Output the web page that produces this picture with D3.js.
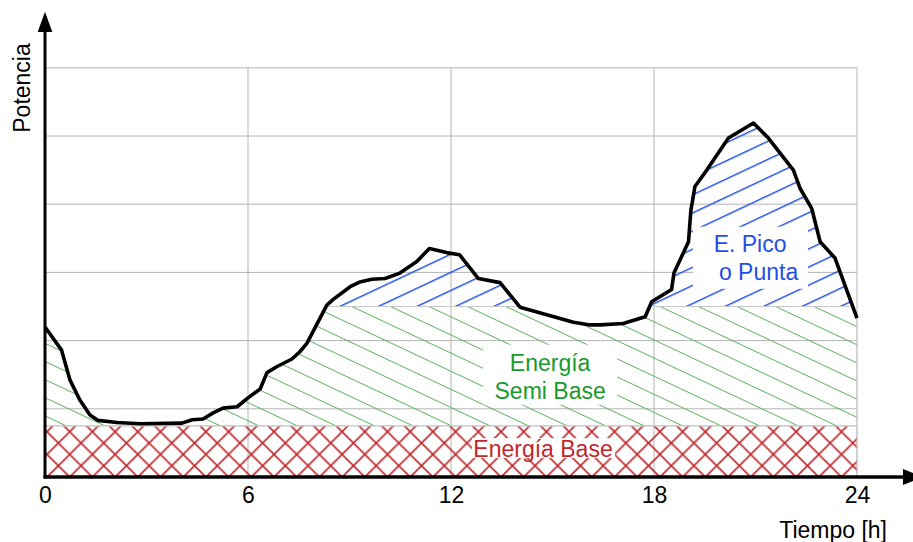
<!DOCTYPE html>
<html>
<head>
<meta charset="utf-8">
<script src="https://cdn.jsdelivr.net/npm/d3@7"></script>
<style>
  html, body { margin: 0; padding: 0; background: #fff; }
  svg { display: block; }
  text { font-family: "Liberation Sans", Arial, sans-serif; }
</style>
</head>
<body>
<svg id="chart" width="913" height="542"></svg>
<script>
// ---- data ----
const hours = [0,0.49,0.74,1.03,1.33,1.57,2.13,2.81,4.05,4.35,4.67,4.97,5.26,5.68,6.0,6.36,6.56,6.86,7.30,7.54,7.74,8.33,8.51,9.02,9.31,9.66,10.05,10.49,10.99,11.36,11.87,12.25,12.81,13.45,14.04,14.83,15.62,16.11,16.41,17.09,17.74,17.93,18.52,18.59,19.02,19.09,19.21,19.56,20.20,20.94,21.38,22.12,22.32,22.66,22.91,23.35,24];
const power = [2.20,1.86,1.42,1.13,0.91,0.83,0.80,0.78,0.79,0.84,0.85,0.94,1.01,1.03,1.16,1.29,1.53,1.62,1.73,1.84,1.96,2.52,2.60,2.79,2.86,2.90,2.91,2.99,3.16,3.35,3.29,3.26,2.91,2.85,2.49,2.38,2.27,2.23,2.23,2.25,2.35,2.57,2.75,2.99,3.45,3.91,4.26,4.50,4.97,5.19,4.97,4.50,4.23,3.94,3.45,3.21,2.33];
const xTicks = [0, 6, 12, 18, 24];
const yGrid = [1, 2, 3, 4, 5, 6];
const baseLevel = 0.75;
const semiBaseLevel = 2.5;
const xLabel = "Tiempo [h]";
const yLabel = "Potencia";
const labels = [
  { name: "pico", lines: [{t: "E. Pico", h: 20.84, v: 3.30}, {t: "o Punta", h: 21.09, v: 2.89}], box: [19.15, 22.55, 3.67, 2.76], color: "#1f4fe6" },
  { name: "semi", lines: [{t: "Energía", h: 14.93, v: 1.56}, {t: "Semi Base", h: 14.93, v: 1.14}], box: [12.95, 16.91, 1.94, 1.06], color: "#1a9a2c" },
  { name: "base", lines: [{t: "Energía Base", h: 14.72, v: 0.30}], box: [12.62, 16.85, 0.57, 0.28], color: "#c0282d" }
];

const data = hours.map((h, i) => ({h, v: power[i]}));

// ---- layout ----
const svg = d3.select("#chart");
const x = d3.scaleLinear().domain([0, 24]).range([45, 857]);
const y = d3.scaleLinear().domain([0, 6]).range([477, 67.8]);

const defs = svg.append("defs");

// green "\" hatch
const gp = defs.append("pattern").attr("id", "green").attr("patternUnits", "userSpaceOnUse")
  .attr("width", 60).attr("height", 16.4)
  .attr("patternTransform", `translate(353,${y(semiBaseLevel)}) rotate(25.2)`);
gp.append("line").attr("x1", 0).attr("y1", 0).attr("x2", 60).attr("y2", 0)
  .attr("stroke", "#62b562").attr("stroke-width", 2);

// blue "/" hatch
const bp = defs.append("pattern").attr("id", "blue").attr("patternUnits", "userSpaceOnUse")
  .attr("width", 60).attr("height", 16.4)
  .attr("patternTransform", `translate(338,${y(semiBaseLevel)}) rotate(-25.2)`);
bp.append("line").attr("x1", 0).attr("y1", 0).attr("x2", 60).attr("y2", 0)
  .attr("stroke", "#1f4fe6").attr("stroke-width", 3);

// red crosshatch (45 degrees)
const cw = 22.7, ch = 22.7;
const rp = defs.append("pattern").attr("id", "red").attr("patternUnits", "userSpaceOnUse")
  .attr("width", cw).attr("height", ch)
  .attr("patternTransform", `translate(478.3,431.7)`);
rp.append("path").attr("d", `M${-cw},${-ch}L${2*cw},${2*ch}M${2*cw},${-ch}L${-cw},${2*ch}`)
  .attr("stroke", "#c0282d").attr("stroke-width", 1.6).attr("fill", "none");

// clip under curve
const area = d3.area().x(d => x(d.h)).y0(y(0)).y1(d => y(d.v));
defs.append("clipPath").attr("id", "under").append("path").attr("d", area(data));

// ---- gridlines ----
const grid = svg.append("g").attr("stroke", "#b4b4b4").attr("stroke-width", 1);
grid.selectAll("line.h").data(yGrid).join("line")
  .attr("x1", x(0)).attr("x2", x(24)).attr("y1", d => y(d)).attr("y2", d => y(d));
grid.selectAll("line.v").data(xTicks.slice(1)).join("line")
  .attr("x1", d => x(d)).attr("x2", d => x(d)).attr("y1", y(0)).attr("y2", y(6));

// ---- areas ----
svg.append("rect").attr("x", x(0)).attr("width", x(24) - x(0))
  .attr("y", y(baseLevel)).attr("height", y(0) - y(baseLevel))
  .attr("fill", "url(#red)").attr("stroke", "#c8c8c8").attr("stroke-width", 1);

svg.append("rect").attr("x", x(0)).attr("width", x(24) - x(0))
  .attr("y", y(semiBaseLevel)).attr("height", y(baseLevel) - y(semiBaseLevel))
  .attr("fill", "url(#green)").attr("stroke", "#c8c8c8").attr("stroke-width", 1)
  .attr("clip-path", "url(#under)");

svg.append("rect").attr("x", x(0)).attr("width", x(24) - x(0))
  .attr("y", y(6.5)).attr("height", y(semiBaseLevel) - y(6.5))
  .attr("fill", "url(#blue)").attr("stroke", "#c8c8c8").attr("stroke-width", 1)
  .attr("clip-path", "url(#under)");

// ---- labels with white knockouts ----
labels.forEach(L => {
  svg.append("rect").attr("x", x(L.box[0])).attr("width", x(L.box[1]) - x(L.box[0]))
    .attr("y", y(L.box[2])).attr("height", y(L.box[3]) - y(L.box[2]))
    .attr("fill", "#fff");
});
labels.forEach(L => {
  svg.selectAll(null).data(L.lines).join("text")
    .attr("x", d => x(d.h)).attr("y", d => y(d.v))
    .attr("text-anchor", "middle").attr("font-size", 23).attr("fill", L.color)
    .text(d => d.t);
});

// ---- curve ----
svg.append("path").datum(data)
  .attr("d", d3.line().x(d => x(d.h)).y(d => y(d.v)))
  .attr("fill", "none").attr("stroke", "#000").attr("stroke-width", 3.6)
  .attr("stroke-linejoin", "round");

// ---- axes ----
const xAxis = svg.append("g").attr("transform", `translate(0,${y(0)})`)
  .call(d3.axisBottom(x).tickValues(xTicks).tickSize(0).tickPadding(10).tickFormat(d3.format("d")));
xAxis.select(".domain").remove();
xAxis.selectAll("text").attr("font-size", 23).attr("fill", "#000")
  .attr("font-family", "Liberation Sans, Arial, sans-serif");

svg.append("line").attr("x1", x(0) - 1.5).attr("x2", 905).attr("y1", y(0)).attr("y2", y(0))
  .attr("stroke", "#000").attr("stroke-width", 3.6);
svg.append("path").attr("d", `M903,${y(0) - 8}L923,${y(0)}L903,${y(0) + 8}Z`).attr("fill", "#000");

svg.append("line").attr("x1", x(0)).attr("x2", x(0)).attr("y1", y(0) + 1.5).attr("y2", 30)
  .attr("stroke", "#000").attr("stroke-width", 3);
svg.append("path").attr("d", `M${x(0)},11.7L${x(0) - 7.3},32L${x(0) + 7.3},32Z`).attr("fill", "#000");

svg.append("text").attr("transform", "translate(30,88) rotate(-90)")
  .attr("text-anchor", "middle").attr("font-size", 23).attr("fill", "#000").text(yLabel);
svg.append("text").attr("x", 887).attr("y", 538)
  .attr("text-anchor", "end").attr("font-size", 23).attr("fill", "#000").text(xLabel);
</script>
</body>
</html>
